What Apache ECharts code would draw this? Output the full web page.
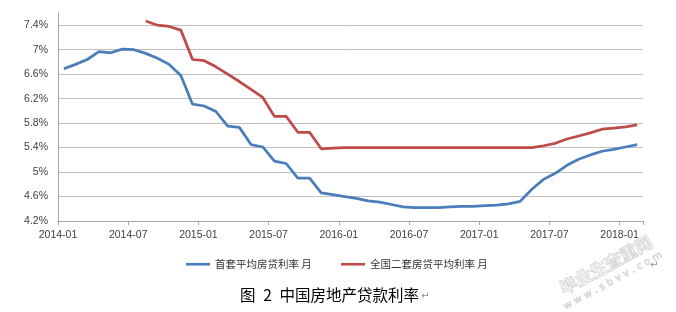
<!DOCTYPE html>
<html>
<head>
<meta charset="utf-8">
<script src="https://cdn.jsdelivr.net/npm/echarts@6/dist/echarts.min.js"></script>
<style>
html,body{margin:0;padding:0;background:#fff;}
#c{width:676px;height:312px;}
</style>
</head>
<body>
<div id="c"></div>
<script>
const months = [
  '2014-01','2014-02','2014-03','2014-04','2014-05','2014-06','2014-07','2014-08','2014-09','2014-10','2014-11','2014-12',
  '2015-01','2015-02','2015-03','2015-04','2015-05','2015-06','2015-07','2015-08','2015-09','2015-10','2015-11','2015-12',
  '2016-01','2016-02','2016-03','2016-04','2016-05','2016-06','2016-07','2016-08','2016-09','2016-10','2016-11','2016-12',
  '2017-01','2017-02','2017-03','2017-04','2017-05','2017-06','2017-07','2017-08','2017-09','2017-10','2017-11','2017-12',
  '2018-01','2018-02'
];
const tickLabels = ['2014-01','2014-07','2015-01','2015-07','2016-01','2016-07','2017-01','2017-07','2018-01'];
const yTickLabels = ['4.2%','4.6%','5%','5.4%','5.8%','6.2%','6.6%','7%','7.4%'];
const firstHome = [
  6.69,6.76,6.84,6.97,6.95,7.01,7.00,6.94,6.86,6.76,6.58,6.11,
  6.08,5.99,5.75,5.73,5.45,5.41,5.18,5.14,4.90,4.90,4.66,4.63,
  4.60,4.57,4.53,4.51,4.47,4.43,4.42,4.42,4.42,4.43,4.44,4.44,
  4.45,4.46,4.48,4.52,4.72,4.88,4.98,5.11,5.21,5.28,5.34,5.37,
  5.41,5.45
];
const secondHome = [
  null,null,null,null,null,null,null,7.47,7.40,7.38,7.32,6.84,
  6.82,6.72,6.60,6.48,6.35,6.22,5.91,5.91,5.65,5.65,5.38,5.39,
  5.40,5.40,5.40,5.40,5.40,5.40,5.40,5.40,5.40,5.40,5.40,5.40,
  5.40,5.40,5.40,5.40,5.40,5.43,5.47,5.54,5.59,5.64,5.70,5.72,
  5.74,5.77
];
const seriesNames = ['首套平均房贷利率 月','全国二套房贷平均利率 月'];
const titleText = '图\u20022\u2002中国房地产贷款利率';

const chart = echarts.init(document.getElementById('c'), null, {renderer:'canvas'});
const toPts = arr => arr.map((v,i) => [i + 0.5, v]);
const labelFont = {fontFamily:'"Liberation Sans", Arial, sans-serif', fontSize:10.5, color:'#404040'};
const option = {
  animation:false,
  backgroundColor:'#ffffff',
  grid:{left:58, right:33, top:13, bottom:91, containLabel:false},
  xAxis:{
    type:'value', min:0, max:months.length, interval:6,
    axisLine:{show:true, lineStyle:{color:'#a6a6a6', width:1}},
    axisTick:{show:true, length:4, lineStyle:{color:'#a6a6a6'}},
    splitLine:{show:false},
    axisLabel:Object.assign({margin:9, showMaxLabel:true,
      formatter: v => { const s = months[Math.round(v)]; return tickLabels.indexOf(s) >= 0 ? s : ''; }
    }, labelFont)
  },
  yAxis:{
    type:'value', min:4.2, max:7.6, interval:0.2,
    axisLine:{show:true, lineStyle:{color:'#a6a6a6', width:1}},
    axisTick:{show:false},
    splitLine:{show:true, showMaxLine:false, lineStyle:{color:['#c0c0c0','rgba(0,0,0,0)'], width:1}},
    axisLabel:Object.assign({margin:10,
      formatter: v => { const s = (+v.toFixed(1)) + '%'; return yTickLabels.indexOf(s) >= 0 ? s : ''; }
    }, labelFont)
  },
  legend:[
    {data:[seriesNames[0]], left:181, top:254, itemWidth:24, itemHeight:10, itemGap:2, icon:'path://M0,4 L24,4 L24,6.6 L0,6.6 Z',
     textStyle:{fontFamily:'"Noto Sans CJK SC", sans-serif', fontSize:10.5, color:'#333'}},
    {data:[seriesNames[1]], left:336, top:254, itemWidth:24, itemHeight:10, itemGap:2, icon:'path://M0,4 L24,4 L24,6.6 L0,6.6 Z',
     textStyle:{fontFamily:'"Noto Sans CJK SC", sans-serif', fontSize:10.5, color:'#333'}}
  ],
  graphic:[
    {type:'text', left:240, top:287, style:{text:titleText, font:'15.5px "Noto Sans CJK SC", sans-serif', fill:'#000'}},
    {type:'text', left:421, top:291, style:{text:'↵', font:'10px "DejaVu Sans", sans-serif', fill:'#8c8c8c'}},
    {type:'text', left:650, top:260, style:{text:'↵', font:'10px "DejaVu Sans", sans-serif', fill:'#8c8c8c'}},
    {type:'text', x:606, y:265, rotation:0.5, style:{text:'毕业生查重网', font:'bold 17px "Noto Sans CJK SC", sans-serif', fill:'rgba(0,0,0,0)', stroke:'#d6d6d6', lineWidth:1, align:'center', verticalAlign:'middle'}},
    {type:'text', x:613, y:281, rotation:0.5, style:{text:'w w w . s b v v . c o m', font:'10px "DejaVu Sans", sans-serif', fill:'rgba(0,0,0,0)', stroke:'#d6d6d6', lineWidth:0.8, align:'center', verticalAlign:'middle'}}
  ],
  series:[
    {name:seriesNames[0], type:'line', data:toPts(firstHome), showSymbol:false, symbol:'none',
     lineStyle:{color:'#4a7ebb', width:2.75}, itemStyle:{color:'#4a7ebb'}},
    {name:seriesNames[1], type:'line', data:toPts(secondHome), showSymbol:false, symbol:'none', connectNulls:false,
     lineStyle:{color:'#be4b48', width:2.75}, itemStyle:{color:'#be4b48'}}
  ]
};
chart.setOption(option);
</script>
</body>
</html>
